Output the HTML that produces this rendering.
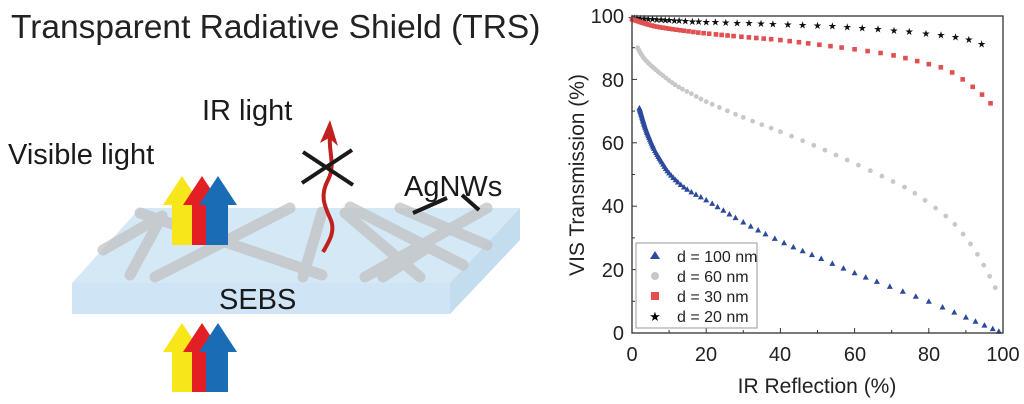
<!DOCTYPE html>
<html><head><meta charset="utf-8"><style>
html,body{margin:0;padding:0;background:#fff;}
svg{display:block;font-family:"Liberation Sans",Arial,sans-serif;}
</style></head><body>
<svg id="s" width="1024" height="404" viewBox="0 0 1024 404" xmlns="http://www.w3.org/2000/svg">
<text x="11" y="38" font-size="33.5" fill="#222">Transparent Radiative Shield (TRS)</text>
<polygon points="72,283 140,208 520,208 450,283" fill="#d4e8f6"/>
<polygon points="450,283 520,208 520,240 450,314" fill="#c3dcee"/>
<rect x="72" y="283" width="378" height="31" fill="#cfe4f4"/>
<g stroke="#c2c2c2" stroke-width="11" stroke-linecap="round" opacity="0.75">
<line x1="103" y1="250" x2="162" y2="216"/>
<line x1="130" y1="275" x2="162" y2="216"/>
<line x1="155" y1="277" x2="290" y2="208"/>
<line x1="140" y1="213" x2="322" y2="275"/>
<line x1="303" y1="277" x2="322" y2="212"/>
<line x1="350" y1="207" x2="463" y2="265"/>
<line x1="345" y1="213" x2="420" y2="277"/>
<line x1="365" y1="277" x2="487" y2="208"/>
<line x1="400" y1="208" x2="487" y2="245"/>
<line x1="383" y1="277" x2="430" y2="246"/>
</g>
<g>
<polygon points="163,205 182,176 201,205 192,205 192,245 172,245 172,205" fill="#f6e61a"/>
<polygon points="183,205 202,176 221,205 212,205 212,245 192,245 192,205" fill="#e31e24"/>
<polygon points="199,205 218,176 237,205 228,205 228,245 206,245 206,205" fill="#1a6db5"/>
</g>
<g transform="translate(0,147)">
<polygon points="163,205 182,176 201,205 192,205 192,245 172,245 172,205" fill="#f6e61a"/>
<polygon points="183,205 202,176 221,205 212,205 212,245 192,245 192,205" fill="#e31e24"/>
<polygon points="199,205 218,176 237,205 228,205 228,245 206,245 206,205" fill="#1a6db5"/>
</g>
<path d="M323,252 C330,240 336,230 330,218 C324,205 320,195 328,180 C336,165 328,150 330,135" stroke="#c0201e" stroke-width="4" fill="none"/>
<polygon points="320,143 330,120 338,146 329,138" fill="#c0201e"/>
<g stroke="#1a1a1a" stroke-width="4"><line x1="303" y1="152" x2="353" y2="185"/><line x1="302" y1="183" x2="352" y2="150"/>
<line x1="413" y1="213" x2="447" y2="198"/><line x1="462" y1="195" x2="479" y2="210"/></g>
<g font-size="29" fill="#1a1a1a">
<text x="202" y="120">IR light</text>
<text x="8" y="164">Visible light</text>
<text x="404" y="196">AgNWs</text>
<text x="219" y="309">SEBS</text>
</g>
<g id="pts"></g>
<rect x="632" y="16" width="371" height="317" fill="none" stroke="#333" stroke-width="1.3"/>
<g id="ticks" stroke="#333" stroke-width="1"></g>
<g font-size="20" fill="#222" text-anchor="end">
<text x="624" y="340">0</text><text x="624" y="277">20</text><text x="624" y="213">40</text>
<text x="624" y="150">60</text><text x="624" y="87">80</text><text x="624" y="23">100</text>
</g>
<g font-size="20" fill="#222" text-anchor="middle">
<text x="632" y="361">0</text><text x="706" y="361">20</text><text x="780" y="361">40</text>
<text x="855" y="361">60</text><text x="929" y="361">80</text><text x="1003" y="361">100</text>
</g>
<text x="817" y="393" font-size="21" text-anchor="middle" fill="#222">IR Reflection (%)</text>
<text transform="translate(584,175) rotate(-90)" font-size="21" text-anchor="middle" fill="#222">VIS Transmission (%)</text>
<rect x="636" y="243" width="121" height="85" fill="#fff" stroke="#999" stroke-width="1"/>
<polygon points="655,251 660,259 650,259" fill="#2b4a9c"/>
<circle cx="655" cy="276" r="4" fill="#c8c8c8"/>
<rect x="651" y="292" width="8" height="8" fill="#e05050"/>
<text x="655" y="321" font-size="13" text-anchor="middle">★</text>
<g font-size="16" fill="#222">
<text x="677" y="262">d = 100 nm</text><text x="677" y="282">d = 60 nm</text>
<text x="677" y="302">d = 30 nm</text><text x="677" y="322">d = 20 nm</text>
</g>
</svg>
<script>
var NS="http://www.w3.org/2000/svg",g=document.getElementById('pts'),tk=document.getElementById('ticks');
function X(v){return 632+3.71*v}function Y(v){return 333-3.17*v}
function el(n,a){var e=document.createElementNS(NS,n);for(var k in a)e.setAttribute(k,a[k]);return e}
for(var i=0;i<=100;i+=10){var x=X(i),L=i%20?3:5;tk.appendChild(el('line',{x1:x,y1:333,x2:x,y2:333-L}));
var y=Y(i);tk.appendChild(el('line',{x1:632,y1:y,x2:632+L,y2:y}));}
function interp(tab,v){if(v<=tab[0][0])return tab[0][1];for(var i=1;i<tab.length;i++)if(v<=tab[i][0]){var t=(v-tab[i-1][0])/(tab[i][0]-tab[i-1][0]);return tab[i-1][1]+t*(tab[i][1]-tab[i-1][1]);}return tab[tab.length-1][1];}
function series(pts,sp,draw){
var P=pts.map(function(p){return[X(p[0]),Y(p[1]),p[0]]}),F=[];
for(var i=0;i<P.length-1;i++){var p0=P[Math.max(0,i-1)],p1=P[i],p2=P[i+1],p3=P[Math.min(P.length-1,i+2)];
for(var k=0;k<20;k++){var t=k/20,t2=t*t,t3=t2*t;var f=function(a,b,c,d){return 0.5*(2*b+(-a+c)*t+(2*a-5*b+4*c-d)*t2+(-a+3*b-3*c+d)*t3)};
F.push([f(p0[0],p1[0],p2[0],p3[0]),f(p0[1],p1[1],p2[1],p3[1]),f(p0[2],p1[2],p2[2],p3[2])]);}}
F.push(P[P.length-1]);
draw(F[0][0],F[0][1]);var acc=0,need=interp(sp,F[0][2]);
for(var i=1;i<F.length;i++){var d=Math.hypot(F[i][0]-F[i-1][0],F[i][1]-F[i-1][1]);acc+=d;
if(acc>=need){draw(F[i][0],F[i][1]);acc=0;need=interp(sp,F[i][2]);}}}
series([[0,99.6],[10,98.9],[20,98.3],[40,97.6],[60,96.6],[80,94.6],[90,93],[96,90.5]],[[0,2],[10,4],[20,7],[40,12],[60,15],[90,13]],function(x,y){var t=el('text',{x:x,y:y+4,'font-size':10,'text-anchor':'middle',fill:'#111'});t.textContent='★';g.appendChild(t)});
series([[0,99],[3,97.8],[6,96.8],[10,96],[15,95.2],[20,94.5],[30,93.4],[40,92.4],[50,91],[60,89.5],[70,87.7],[80,84.8],[85,83],[90,79.3],[93,76.5],[95,74.5],[97,72]],[[0,1.5],[20,5],[40,8],[60,12],[90,12]],function(x,y){g.appendChild(el('rect',{x:x-2.3,y:y-2.3,width:4.6,height:4.6,fill:'#e05050'}))});
series([[1.5,90],[3,87],[5,84.5],[8,81.5],[12,78],[16,75.5],[20,73],[30,68],[40,63.5],[50,58.7],[60,53.5],[70,48],[75,45],[80,41],[85,36.5],[88,33],[91,28.5],[93,25],[95,21],[97,16.5],[99,11.5]],[[1.5,1.2],[20,6],[40,10],[60,12],[99,12]],function(x,y){g.appendChild(el('circle',{cx:x,cy:y,r:2.4,fill:'#c8c8c8'}))});
series([[2,71],[3,67],[4,63.5],[6,58],[8,54],[10,50.5],[13,47],[16,44.5],[20,42],[30,35],[40,29],[50,24],[60,19],[70,14.5],[80,10],[90,5],[95,2.5],[100,0]],[[2,1],[10,2.5],[20,6],[40,9],[80,14],[95,8],[100,4]],function(x,y){g.appendChild(el('polygon',{points:(x)+','+(y-3)+' '+(x+3)+','+(y+2.5)+' '+(x-3)+','+(y+2.5),fill:'#2b4a9c'}))});
</script>
</body></html>
